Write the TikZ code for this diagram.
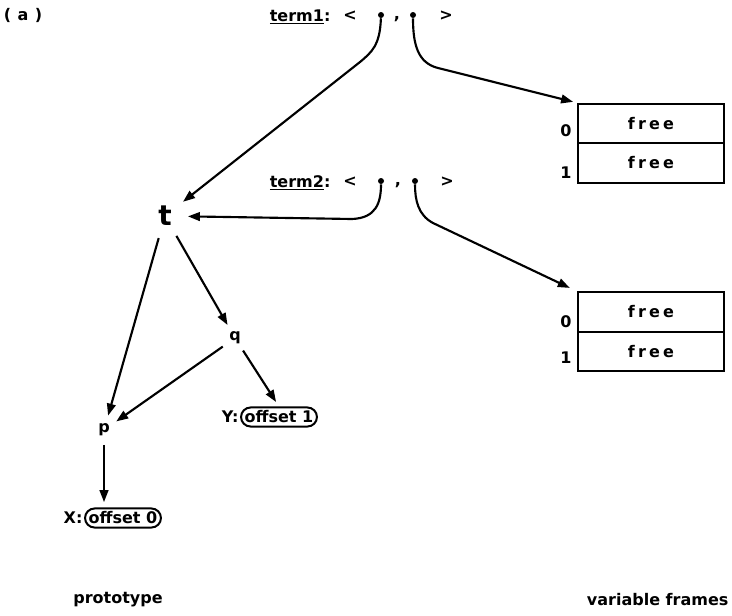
\documentclass[tikz,border=0pt]{standalone}
\usepackage{fontspec}
\setmainfont{DejaVu Sans}
\newfontfamily\spacedfont{DejaVu Sans}[LetterSpace=20]
\newfontfamily\widefont{DejaVu Sans}[LetterSpace=40]
\usetikzlibrary{arrows.meta,shapes.misc}
\begin{document}
\begin{tikzpicture}[x=0.75pt,y=-0.75pt,
  lbl/.style={font=\fontsize{12}{14}\selectfont\bfseries, inner sep=1pt},
  dotnode/.style={circle, fill, inner sep=0pt, minimum size=4.5pt},
  arr/.style={line width=1.6pt, -{Triangle[length=9pt,width=6.5pt]}},
  cell/.style={draw, line width=1.5pt, minimum width=109.5pt, minimum height=29.5pt, font=\fontsize{12}{14}\selectfont\spacedfont\bfseries},
  vert/.style={circle, inner sep=0pt, minimum size=22pt, font=\fontsize{12}{14}\selectfont\bfseries},
  offbox/.style={draw, rounded rectangle, line width=1.5pt, inner xsep=1pt, inner ysep=2.5pt, font=\fontsize{12}{14}\selectfont\bfseries}
]
\useasboundingbox (0,0) rectangle (732,615);

% panel label
\node[lbl, font=\fontsize{12}{14}\selectfont\widefont\bfseries] (panel) at (23,15) {(a)};

% term1
\node[lbl, anchor=east] (term1) at (332,17) {\underline{term1}:};
\node[lbl] (lt1) at (350,16) {<};
\node[dotnode] (t1a) at (381,15) {};
\node[lbl, anchor=base] (t1c) at (397,19) {,};
\node[dotnode] (t1b) at (413,15) {};
\node[lbl] (gt1) at (446,16) {>};

% term2
\node[lbl, anchor=east] (term2) at (332,183) {\underline{term2}:};
\node[lbl] (lt2) at (350,182) {<};
\node[dotnode] (t2a) at (381,181) {};
\node[lbl, anchor=base] (t2c) at (398,185) {,};
\node[dotnode] (t2b) at (415,181) {};
\node[lbl] (gt2) at (447,182) {>};

% frame 1
\node[cell] (f1a) at (651,123.5) {free};
\node[cell] (f1b) at (651,163) {free};
\node[lbl] (f1n0) at (566,131) {0};
\node[lbl] (f1n1) at (566,173) {1};

% frame 2
\node[cell] (f2a) at (651,312) {free};
\node[cell] (f2b) at (651,351.5) {free};
\node[lbl] (f2n0) at (566,322) {0};
\node[lbl] (f2n1) at (566,358) {1};

% prototype tree
\node[vert, minimum size=34pt, font=\fontsize{21}{24}\selectfont\bfseries] (t) at (165,216) {t};
\node[vert] (q) at (235,338) {q};
\node[vert] (p) at (104,430) {p};
\node[offbox] (yb) at (279,417) {offset 1};
\node[lbl, anchor=east] (ylab) at (yb.west) {Y:};
\node[offbox] (xb) at (123,518) {offset 0};
\node[lbl, anchor=east] (xlab) at (xb.west) {X:};

% connectors from term1
\coordinate (c1) at (360,62);
\draw[arr] (t1a) .. controls (380,45) and (372,52) .. (c1) -- (t);
\coordinate (c2) at (438,68);
\draw[arr, shorten >=3pt] (t1b) .. controls (413,45) and (418,63) .. (c2) -- (f1a.north west);

% connectors from term2
\coordinate (c3) at (352,219);
\draw[arr] (t2a) .. controls (381,203) and (376,218) .. (c3) -- (t);
\coordinate (c4) at (433,223);
\draw[arr, shorten >=6pt] (t2b) .. controls (415,200) and (418,215) .. (c4) -- (f2a.north west);

% tree edges
\draw[arr] (t) -- (p);
\draw[arr] (t) -- (q);
\draw[arr] (q) -- (p);
\draw[arr, shorten >=4pt] (q) -- (yb.north);
\draw[arr, shorten >=4pt] (p) -- (p |- xb.north);

% captions
\node[lbl] (proto) at (118,600) {prototype};
\node[lbl, anchor=east] (vf) at (730,600) {variable frames};
\end{tikzpicture}
\end{document}
